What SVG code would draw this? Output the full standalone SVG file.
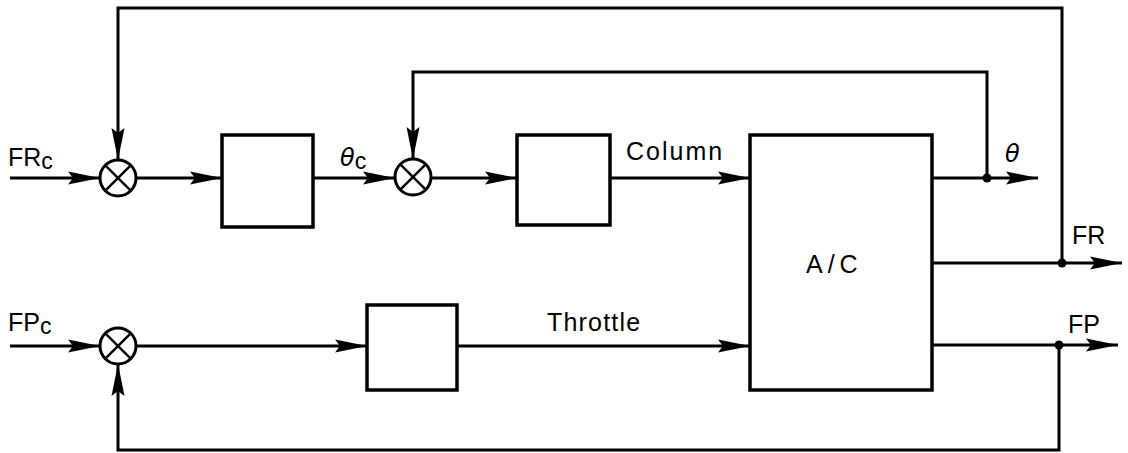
<svg xmlns="http://www.w3.org/2000/svg" width="1128" height="453" viewBox="0 0 1128 453">
<style>
.ln{fill:none;stroke:#000;stroke-width:3;stroke-linejoin:miter}
.bx{fill:#fff;stroke:#000;stroke-width:3.5}
.sj{fill:#fff;stroke:#000;stroke-width:3}
.x{stroke:#000;stroke-width:2.5}
.t{font-family:"Liberation Sans",Arial,sans-serif;font-size:25px;fill:#000}
.th{font-family:"DejaVu Sans",sans-serif;font-style:italic;font-size:24px;fill:#000}
.sub{font-size:23px}
</style>
<defs>
<marker id="ar" markerUnits="userSpaceOnUse" markerWidth="34" markerHeight="16" refX="32" refY="7" orient="auto" overflow="visible">
<path d="M0,0.5 L32,7 L0,13.5 L5,7 z" fill="#000"/>
</marker>
</defs>
<g id="connectors">
<path class="ln" d="M10 178 H100" marker-end="url(#ar)"/>
<path class="ln" d="M136 178 H222" marker-end="url(#ar)"/>
<path class="ln" d="M313 178 H395" marker-end="url(#ar)"/>
<path class="ln" d="M431 178 H517" marker-end="url(#ar)"/>
<path class="ln" d="M610 178 H750" marker-end="url(#ar)"/>
<path class="ln" d="M932 178 H1038" marker-end="url(#ar)"/>
<path class="ln" d="M987 178 V72 H413 V159" marker-end="url(#ar)"/>
<path class="ln" d="M932 263 H1122" marker-end="url(#ar)"/>
<path class="ln" d="M1062 263 V8 H118 V160" marker-end="url(#ar)"/>
<path class="ln" d="M10 346 H100" marker-end="url(#ar)"/>
<path class="ln" d="M136 346 H367" marker-end="url(#ar)"/>
<path class="ln" d="M457 346 H750" marker-end="url(#ar)"/>
<path class="ln" d="M932 345 H1118" marker-end="url(#ar)"/>
<path class="ln" d="M1059 345 V450 H118 V364" marker-end="url(#ar)"/>
<circle cx="987" cy="178" r="4.5" fill="#000"/>
<circle cx="1062" cy="263" r="4.5" fill="#000"/>
<circle cx="1059" cy="345" r="4.5" fill="#000"/>
</g>
<g id="sum1"><circle class="sj" cx="118" cy="178" r="18"/><path class="x" d="M105.3 165.3 L130.7 190.7 M130.7 165.3 L105.3 190.7"/></g>
<g id="sum2"><circle class="sj" cx="413" cy="177" r="18"/><path class="x" d="M400.3 164.3 L425.7 189.7 M425.7 164.3 L400.3 189.7"/></g>
<g id="sum3"><circle class="sj" cx="118" cy="346" r="18"/><path class="x" d="M105.3 333.3 L130.7 358.7 M130.7 333.3 L105.3 358.7"/></g>
<g id="box1"><rect class="bx" x="222" y="135" width="91" height="92"/></g>
<g id="box2"><rect class="bx" x="517" y="135" width="93" height="90"/></g>
<g id="box3"><rect class="bx" x="367" y="305" width="90" height="85"/></g>
<g id="ac"><rect class="bx" x="750" y="135" width="182" height="255"/>
<text class="t" x="806" y="273" letter-spacing="5">A/C</text></g>
<g id="labels">
<text class="t" x="8" y="166">FR<tspan class="sub" dy="3">c</tspan></text>
<text class="t" x="8" y="331">FP<tspan class="sub" dy="3">c</tspan></text>
<text class="th" x="340" y="166">θ<tspan class="t sub" font-style="normal" dy="3">c</tspan></text>
<text class="t" x="626" y="160" letter-spacing="2">Column</text>
<text class="t" x="547" y="331" letter-spacing="1.2">Throttle</text>
<text class="th" x="1005" y="162">θ</text>
<text class="t" x="1072" y="244">FR</text>
<text class="t" x="1068" y="333">FP</text>
</g>
</svg>
